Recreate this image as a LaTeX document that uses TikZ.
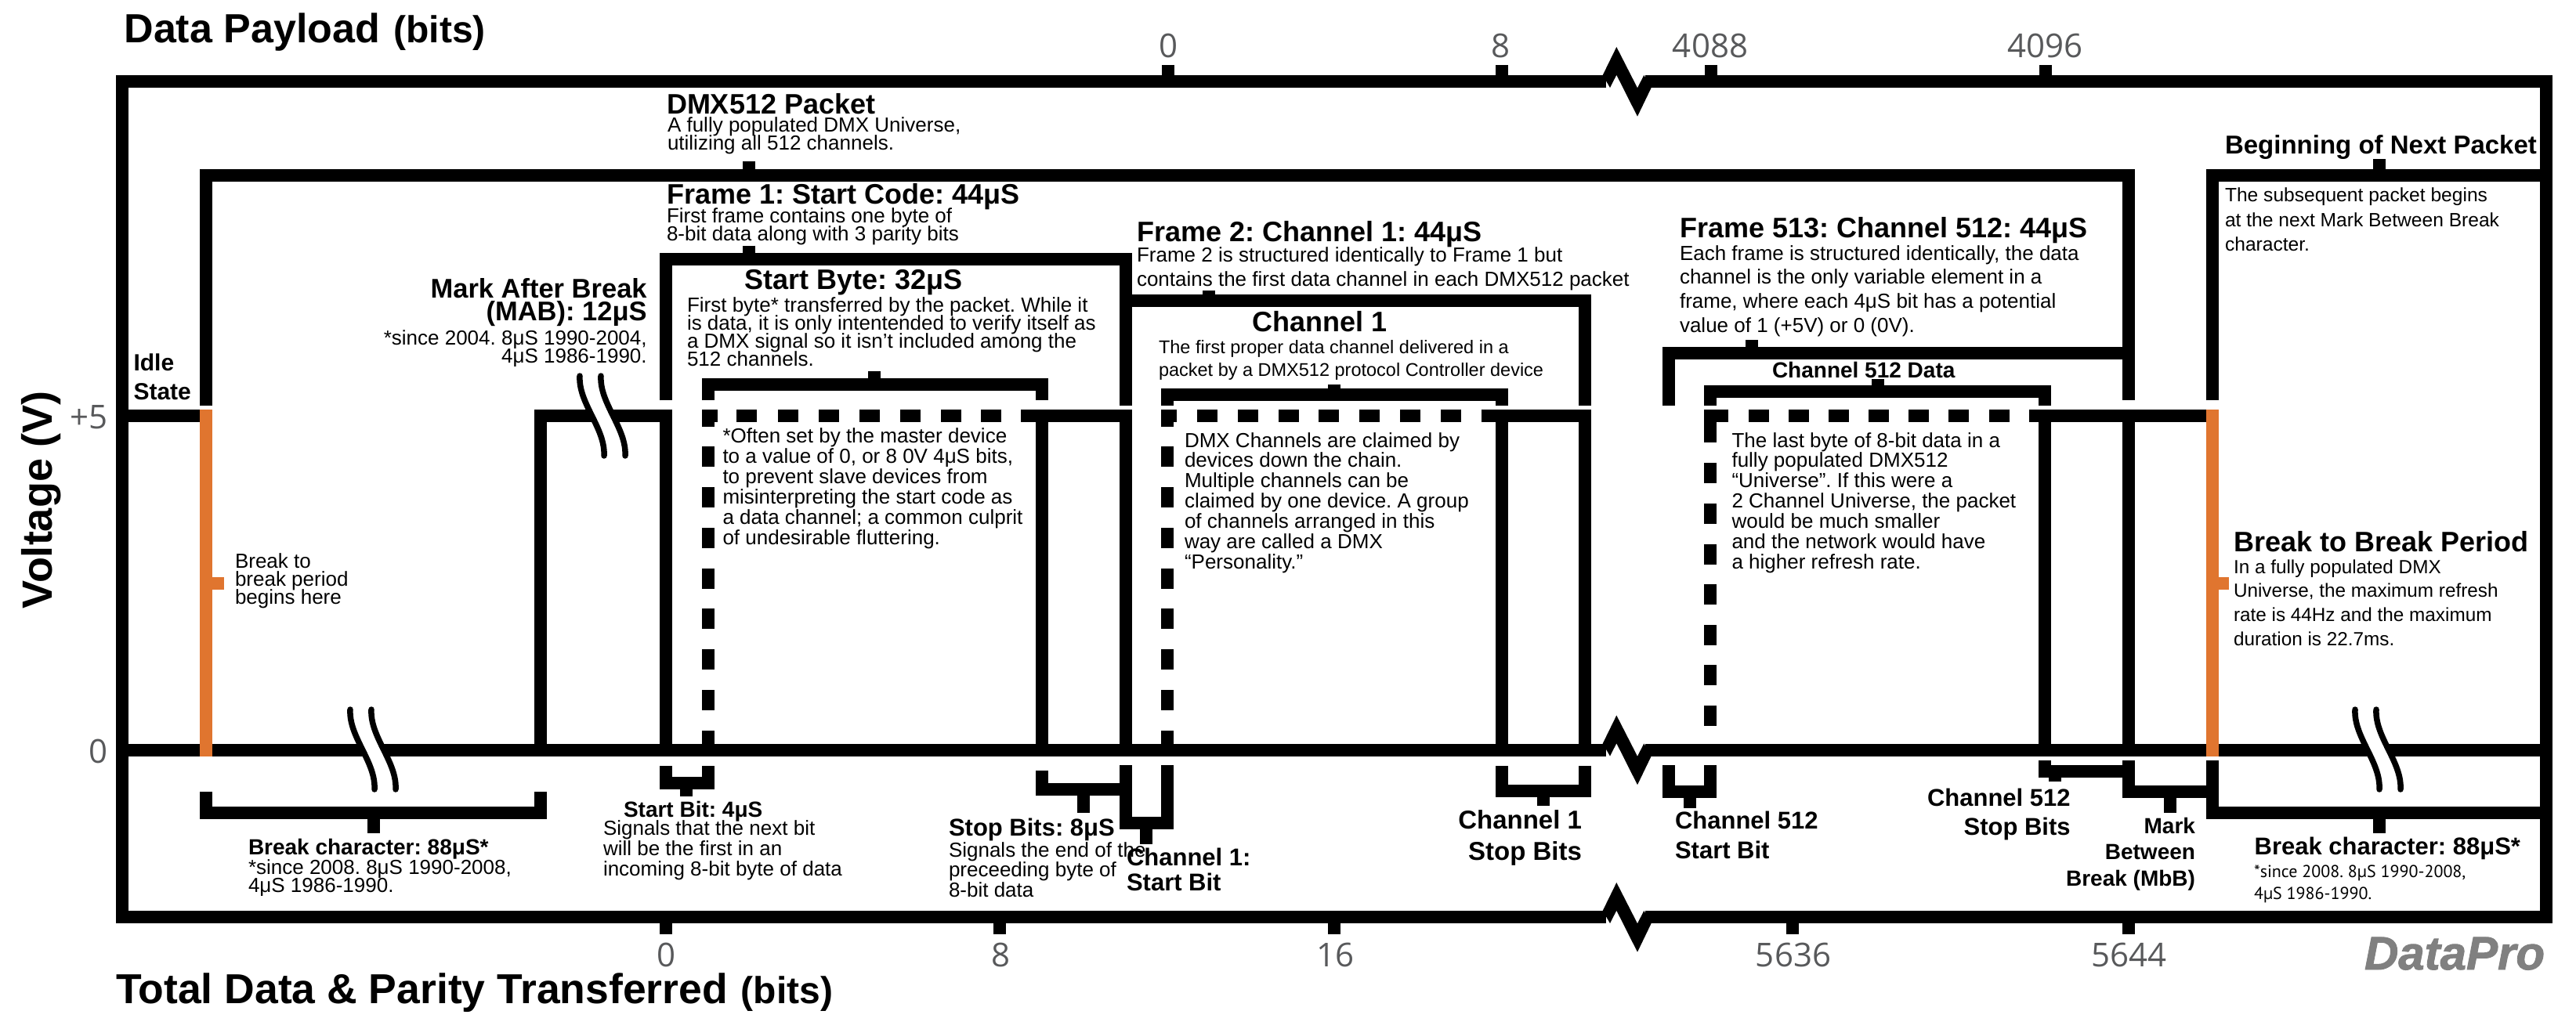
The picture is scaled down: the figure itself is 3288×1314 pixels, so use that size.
\documentclass[tikz,border=0pt]{standalone}
\usepackage{fontspec}
\setmainfont{Liberation Sans}
\newfontfamily\tickfont{Open Sans}
\newfontfamily\smallfont{PT Sans}
\definecolor{sigorange}{HTML}{E0752F}
\definecolor{tickgrey}{HTML}{58595B}
\definecolor{logogrey}{HTML}{808080}
\def\tikzfam{}
\tikzset{
  bar/.style={draw=black,line width=16pt,line cap=butt,line join=miter,miter limit=10},
  obar/.style={draw=sigorange,line width=16pt,line cap=butt},
  ink/.style={fill=black,draw=none},
  txt/.style={inner sep=0pt,outer sep=0pt,anchor=north west,align=left},
  rt/.style={anchor=north east,align=right},
  ctr/.style={anchor=north,align=center},
  bd/.code={\def\tikzfam{\bfseries}},
  tk/.code={\def\tikzfam{\tickfont}},
  tkc/.style={tk,ctr,text=tickgrey},
  sm/.code={\def\tikzfam{\smallfont}},
}
\newcommand\TT[7][]{\node[txt,#1,font={\frenchspacing\tikzfam\fontsize{#5}{#6}\selectfont\lineskiplimit=-1000pt}] (#2) at (#3,{#4-0.8*#5}) {\rule{0pt}{0.8em}#7};}
\newcommand\TK[3]{\draw[bar] (#1,#2) -- (#1,#3);}
\begin{document}
\begin{tikzpicture}[x=1pt,y=-1pt]
\useasboundingbox (0,0) rectangle (3288,1314);
\fill[white] (0,0) rectangle (3288,1314);
% frame
\draw[bar] (2050,104) -- (156.3,104) -- (156.3,1171) -- (2050,1171);
\draw[bar] (2100,104) -- (3250,104) -- (3250,1171) -- (2100,1171);
\draw[bar] (156,957.5) -- (2050,957.5);
\draw[bar] (2100,957.5) -- (3250,957.5);
\foreach \d in {0,853.5,1067}{
  \fill[ink,shift={(0,\d)}] (2045.7,96) -- (2063.3,60) -- (2090,112.3) -- (2098.3,96) -- (2107.7,112) -- (2090,148.7) -- (2063.3,95.7) -- (2055,112) -- cycle;
}
% frame ticks
\TK{1491}{83}{97}\TK{1917}{83}{97}\TK{2184}{83}{97}\TK{2611}{83}{97}
\TK{850}{1178}{1193}\TK{1276}{1178}{1193}\TK{1703}{1178}{1193}\TK{2288}{1178}{1193}\TK{2717}{1178}{1193}
% packet and next-packet brackets
\draw[bar] (263,518) -- (263,224) -- (2717,224) -- (2717,511);
\TK{956}{206}{217}
\draw[bar] (2824,511) -- (2824,224) -- (3243,224);
\TK{3037}{203}{232}
% frame brackets
\draw[bar] (850,511) -- (850,331) -- (1437,331) -- (1437,518);
\TK{956}{313.5}{324}
\draw[bar] (1429,384) -- (2023,384) -- (2023,518);
\TK{1543}{371}{377}
\draw[bar] (2130,518) -- (2130,451) -- (2710,451);
\TK{2236}{434}{444}
% byte brackets
\draw[bar] (903.5,511) -- (903.5,491) -- (1330,491) -- (1330,511);
\TK{1116}{473.5}{484}
\draw[bar] (1490,518) -- (1490,504) -- (1916.6,504) -- (1916.6,518);
\TK{1703}{491}{497}
\draw[bar] (2183,518) -- (2183,500) -- (2610,500) -- (2610,518);
\TK{2397}{484}{493}
% signal
\draw[bar] (156,531) -- (256,531);
\draw[bar] (690,957.5) -- (690,531) -- (850,531) -- (850,957.5);
\draw[bar] (1330,957.5) -- (1330,531);
\draw[bar] (1303,531) -- (1437,531) -- (1437,957.5);
\draw[bar] (1916.6,957.5) -- (1916.6,531);
\draw[bar] (1890.6,531) -- (2023,531) -- (2023,957.5);
\draw[bar] (2610,957.5) -- (2610,531);
\draw[bar] (2590,531) -- (2816,531);
\draw[bar] (2717,957.5) -- (2717,531);
% dashed data
\foreach \x in {940,992.6,1044.6,1096.5,1148.5,1200.5,1252,1528,1580,1632,1683,1735,1787,1839,2231.5,2282.7,2334,2385,2436,2487,2539}{
  \fill[ink] (\x,523) rectangle (\x+26,539);
}
\foreach \x in {903.5,1490}{
  \foreach \t in {570,622,673.7,725.5,777,829,881,932.6}{
    \fill[ink] (\x-8,\t) rectangle (\x+8,\t+26.4);
  }
  \fill[ink] (\x-8,523) rectangle (\x+8,545);
  \fill[ink] (\x-8,523) rectangle (\x+12,539);
}
\foreach \t in {591,643,695,746,798,849,901}{
  \fill[ink] (2175,\t) rectangle (2191,\t+26.4);
}
\fill[ink] (2175,523) rectangle (2191,565);
\fill[ink] (2175,523) rectangle (2205.5,539);
% lower brackets
\draw[bar] (850,978) -- (850,1000) -- (903.5,1000) -- (903.5,978);
\TK{876}{1007}{1017}
\draw[bar] (263,1011) -- (263,1037.5) -- (690,1037.5) -- (690,1011);
\TK{477}{1045}{1064}
\draw[bar] (1330,984) -- (1330,1007.5) -- (1437,1007.5);
\TK{1383}{1015}{1038}
\draw[bar] (1437,977) -- (1437,1051) -- (1490,1051) -- (1490,977);
\TK{1463}{1058}{1078}
\draw[bar] (1916.6,978) -- (1916.6,1010) -- (2023,1010) -- (2023,978);
\TK{1970}{1017}{1029}
\draw[bar] (2130,977) -- (2130,1011) -- (2183,1011) -- (2183,977);
\TK{2157}{1018}{1032}
\draw[bar] (2610,971) -- (2610,985) -- (2717,985);
\TK{2623}{992}{998}
\draw[bar] (2717,971) -- (2717,1011) -- (2824,1011);
\TK{2770}{1018}{1038}
\draw[bar] (2824,971) -- (2824,1037.5) -- (3243,1037.5);
\TK{3037}{1045}{1064}
% orange markers
\draw[obar] (263,523) -- (263,965.5);
\draw[obar] (2824,523) -- (2824,965.5);
\draw[obar] (270,744.5) -- (285.5,744.5);
\draw[obar] (2831,744.5) -- (2845,744.5);
% squiggle break marks
\foreach \dx/\dy in {0/0,-293/426,2266/426}{
  \begin{scope}[shift={(\dx,\dy)}]
    \fill[white] (740,476) .. controls (738,515) and (773,547) .. (771,586) -- (798,586) .. controls (800,547) and (765,515) .. (767,476) -- cycle;
    \draw[black,line width=7.5pt,line cap=round] (740,480) .. controls (738,515) and (773,547) .. (771,582);
    \draw[black,line width=7.5pt,line cap=round] (767,480) .. controls (765,515) and (800,547) .. (798,582);
  \end{scope}
}
% axis titles
\TT[bd]{payload}{158.5}{54.7}{52}{60}{Data Payload\hspace{3pt} {\fontsize{48}{50}\selectfont (bits)}}
\TT[bd]{total}{148}{1281}{53.5}{60}{Total Data \& Parity Transferred\hspace{2pt} {\fontsize{48}{50}\selectfont (bits)}}
\node[rotate=90,anchor=base,inner sep=0pt,font={\bfseries\fontsize{54}{60}\selectfont}] (voltage) at (66,638) {Voltage (V)};
% tick labels
\TT[tk,rt,text=tickgrey]{vfive}{138}{547}{42}{50}{+5}
\TT[tk,rt,text=tickgrey]{vzero}{138}{974.7}{42}{50}{0}
\TT[tkc]{ta}{1491}{73.6}{42}{50}{0}
\TT[tkc]{tb}{1915}{73.6}{42}{50}{8}
\TT[tkc]{tc}{2183}{73.6}{42}{50}{4088}
\TT[tkc]{td}{2610}{73.6}{42}{50}{4096}
\TT[tkc]{ba}{850}{1234}{42}{50}{0}
\TT[tkc]{bb}{1277}{1234}{42}{50}{8}
\TT[tkc]{bc}{1704}{1234}{42}{50}{16}
\TT[tkc]{bd1}{2289}{1234}{42}{50}{5636}
\TT[tkc]{be}{2717}{1234}{42}{50}{5644}
% upper texts
\TT[bd]{packet}{851}{145}{36}{40}{DMX512 Packet}
\TT{packettxt}{852}{168}{26}{23.5}{A fully populated DMX Universe,\\utilizing all 512 channels.}
\TT[bd]{frameone}{851}{260}{36}{40}{Frame 1: Start Code: 44μS}
\TT{frameonetxt}{851}{284}{26}{23}{First frame contains one byte of\\8-bit data along with 3 parity bits}
\TT[bd]{startbyte}{950.5}{369.5}{36}{40}{Start Byte: 32μS}
\TT{startbytetxt}{877}{398}{26}{23}{First byte* transferred by the packet. While it\\is data, it is only intentended to verify itself as\\a DMX signal so it isn’t included among the\\512 channels.}
\TT[bd,rt]{mab}{825.7}{380}{34.5}{29.5}{Mark After Break\\(MAB): 12μS}
\TT[rt]{mabtxt}{825.7}{440}{26}{23}{*since 2004. 8μS 1990-2004,\\4μS 1986-1990.}
\TT[bd]{idle}{170.5}{473.5}{30}{36.5}{Idle\\State}
\TT{startnote}{922.5}{565}{26}{26}{*Often set by the master device\\to a value of 0, or 8 0V 4μS bits,\\to prevent slave devices from\\misinterpreting the start code as\\a data channel; a common culprit\\of undesirable fluttering.}
\TT[bd]{frametwo}{1451}{308.5}{36}{40}{Frame 2: Channel 1: 44μS}
\TT{frametwotxt}{1451}{334.6}{26}{30.5}{Frame 2 is structured identically to Frame 1 but\\contains the first data channel in each DMX512 packet}
\TT[bd]{chone}{1598}{423}{36}{40}{Channel 1}
\TT{chonetxt}{1479}{451}{23.5}{29}{The first proper data channel delivered in a\\packet by a DMX512 protocol Controller device}
\TT{chonenote}{1512}{571}{26}{25.9}{DMX Channels are claimed by\\devices down the chain.\\Multiple channels can be\\claimed by one device. A group\\of channels arranged in this\\way are called a DMX\\“Personality.”}
\TT[bd]{framelast}{2144}{303}{36}{40}{Frame 513: Channel 512: 44μS}
\TT{framelasttxt}{2144}{332}{26}{30.7}{Each frame is structured identically, the data\\channel is the only variable element in a\\frame, where each 4μS bit has a potential\\value of 1 (+5V) or 0 (0V).}
\TT[bd]{chlast}{2262}{482}{28}{32}{Channel 512 Data}
\TT{chlastnote}{2210.5}{571}{26}{25.9}{The last byte of 8-bit data in a\\fully populated DMX512\\“Universe”. If this were a\\2 Channel Universe, the packet\\would be much smaller\\and the network would have\\a higher refresh rate.}
\TT[bd]{nextpkt}{2840}{196}{33}{38}{Beginning of Next Packet}
\TT{nextpkttxt}{2840}{257.6}{24.6}{31.5}{The subsequent packet begins\\at the next Mark Between Break\\character.}
\TT{breakbegin}{300}{725.5}{26}{23.2}{Break to\\break period\\begins here}
\TT[bd]{btb}{2851}{704.5}{36}{40}{Break to Break Period}
\TT{btbtxt}{2851}{732}{24.3}{30.9}{In a fully populated DMX\\Universe, the maximum refresh\\rate is 44Hz and the maximum\\duration is 22.7ms.}
% lower texts
\TT[bd]{breakl}{317}{1091.7}{28}{32}{Break character: 88μS*}
\TT{breakltxt}{317}{1116}{26}{23}{*since 2008. 8μS 1990-2008,\\4μS 1986-1990.}
\TT[bd]{startbit}{796}{1043}{28}{32}{Start Bit: 4μS}
\TT{startbittxt}{770}{1066.5}{26}{26.2}{Signals that the next bit\\will be the first in an\\incoming 8-bit byte of data}
\TT[bd]{stopbits}{1211}{1067}{31}{35}{Stop Bits: 8μS}
\TT{stopbitstxt}{1211}{1094}{26}{25.8}{Signals the end of the\\preceeding byte of\\8-bit data}
\TT[bd]{chonestart}{1438}{1105}{31}{32}{Channel 1:\\Start Bit}
\TT[bd,rt]{chonestop}{2019}{1058}{33}{40}{Channel 1\\Stop Bits}
\TT[bd]{chlaststart}{2138}{1058}{31}{38}{Channel 512\\Start Bit}
\TT[bd,rt]{chlaststop}{2642.6}{1029.4}{31}{37}{Channel 512\\Stop Bits}
\TT[bd,rt]{mbb}{2802}{1064}{28}{33.8}{Mark\\Between\\Break (MbB)}
\TT[bd]{breakr}{2877.6}{1091.7}{31}{35}{Break character: 88μS*}
\TT[sm]{breakrtxt}{2877}{1120}{22}{28.5}{*since 2008. 8μS 1990-2008,\\4μS 1986-1990.}
\TT[text=logogrey]{logo}{3018}{1238}{60}{66}{\bfseries\itshape\addfontfeature{FakeBold=1.5}DataPro}
\end{tikzpicture}
\end{document}
